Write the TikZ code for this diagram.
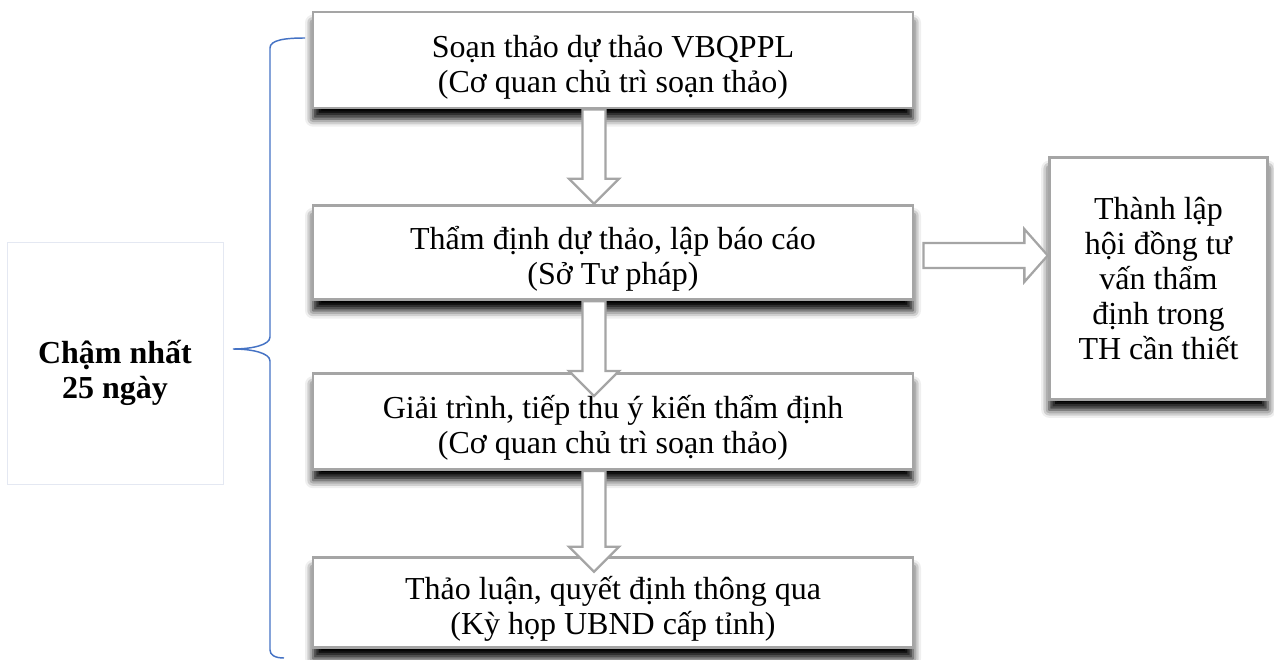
\documentclass[tikz,border=0pt]{standalone}
\usepackage{fontspec}
\setmainfont{Liberation Serif}
\definecolor{boxgray}{HTML}{A5A5A5}
\definecolor{bracebl}{HTML}{4472C4}
\definecolor{faint}{HTML}{E4E8F2}
\usetikzlibrary{calc, positioning, shadows.blur}

% hollow block arrows between two points
\newcommand{\blkdown}[2]{%
  \draw[blkarrow] let \p1=(#1), \p2=(#2) in
    (\x1-8.6pt,\y1) -- (\x1-8.6pt,\y2+18.8pt) -- (\x1-18.8pt,\y2+18.8pt)
    -- (\x1,\y2) -- (\x1+18.8pt,\y2+18.8pt) -- (\x1+8.6pt,\y2+18.8pt)
    -- (\x1+8.6pt,\y1) -- cycle;}
\newcommand{\blkright}[2]{%
  \draw[blkarrow] let \p1=(#1), \p2=(#2) in
    (\x1,\y1-9.4pt) -- (\x2-17.5pt,\y1-9.4pt) -- (\x2-17.5pt,\y1-19.8pt)
    -- (\x2,\y1) -- (\x2-17.5pt,\y1+19.8pt) -- (\x2-17.5pt,\y1+9.4pt)
    -- (\x1,\y1+9.4pt) -- cycle;}
% taller first line, pushes the text a little down
\newcommand{\topstrut}[1]{\rule{0pt}{#1}}

\begin{document}
\begin{tikzpicture}[
  x=0.75pt, y=-0.75pt,
  boxbase/.style={draw=boxgray, line width=2.2pt, fill=white,
                  align=center, inner sep=2pt,
                  font=\fontsize{24}{26.25}\selectfont,
                  blur shadow={shadow xshift=0pt, shadow yshift=-8pt,
                               shadow blur radius=6pt, shadow opacity=100}},
  stepbox/.style={boxbase, minimum width=450pt},
  sidebox/.style={boxbase, minimum width=164pt, minimum height=181pt},
  notebox/.style={draw=faint, line width=0.6pt, fill=white,
                  minimum width=162pt, minimum height=181pt, align=center,
                  font=\fontsize{24}{26.25}\selectfont\bfseries},
  blkarrow/.style={draw=boxgray, line width=1.7pt, fill=white, line join=miter},
]
\useasboundingbox (0,0) rectangle (1274,660);

% steps
\node[stepbox, minimum height=72pt] (b1) at (613,60)
  {\topstrut{27.5pt}Soạn thảo dự thảo VBQPPL\\(Cơ quan chủ trì soạn thảo)};
\node[stepbox, minimum height=71pt] (b2) at (613,252.5)
  {\topstrut{27.5pt}Thẩm định dự thảo, lập báo cáo\\(Sở Tư pháp)};
\node[stepbox, minimum height=72pt] (b3) at (613,421.5)
  {\topstrut{27.5pt}Giải trình, tiếp thu ý kiến thẩm định\\(Cơ quan chủ trì soạn thảo)};
\node[stepbox, minimum height=68pt] (b4) at (613,602.5)
  {\topstrut{27.5pt}Thảo luận, quyết định thông qua\\(Kỳ họp UBND cấp tỉnh)};

\node[sidebox] (rb) at (1158.5,278.5)
  {Thành lập\\hội đồng tư\\vấn thẩm\\định trong\\TH cần thiết};

\node[notebox] (lb) at (115,363.5)
  {\topstrut{31pt}Chậm nhất\\25 ngày};

% brace
\draw[bracebl, line width=1.1pt]
  (305,38) .. controls (285,38) and (270,40) .. (270,48)
  -- (270,337) .. controls (270,345) and (252,349) .. (233,349)
  .. controls (252,349) and (270,353) .. (270,361)
  -- (270,650) .. controls (270,655) and (275,658) .. (284,658);

% arrows
\coordinate (ax) at (594,0);
\coordinate (r0) at ($(b2.east)+(9,3)$);
\blkdown{b1.south -| ax}{b2.north -| ax}
\blkdown{b2.south -| ax}{$(b3.north -| ax)+(0,24)$}
\blkdown{b3.south -| ax}{$(b4.north -| ax)+(0,16)$}
\blkright{r0}{rb.west |- r0}
\end{tikzpicture}
\end{document}
